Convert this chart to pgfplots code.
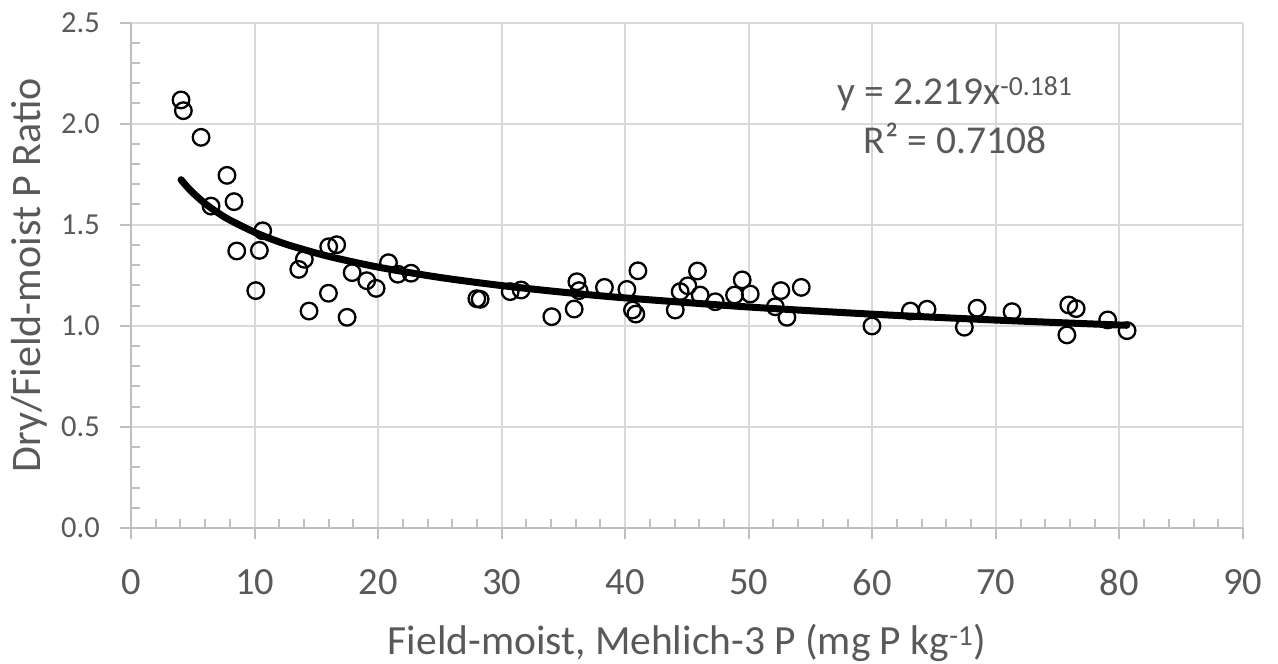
\documentclass[border=0pt]{standalone}
\usepackage{fontspec}
\setmainfont{Carlito}
\usepackage{pgfplots}
\pgfplotsset{compat=1.18}
\definecolor{txtgray}{HTML}{595959}
\definecolor{gridgray}{HTML}{D9D9D9}
\definecolor{axgray}{HTML}{BFBFBF}
\begin{document}
\begin{tikzpicture}
\path[use as bounding box] (-131pt,-136pt) rectangle (1147pt,528pt);
\begin{axis}[
  anchor=south west, at={(0pt,0pt)},
  scale only axis, width=1112pt, height=505.5pt,
  xmin=0, xmax=90, ymin=0, ymax=2.5,
  axis x line=bottom, axis y line=left,
  axis line style={-, draw=axgray, line width=2.5pt},
  xtick={0,10,...,90}, ytick={0,0.5,...,2.5},
  minor x tick num=4, minor y tick num=4,
  tick align=inside,
  major tick length=-11pt, minor tick length=9pt,
  every tick/.style={draw=axgray, line width=2pt},
  grid=major,
  major grid style={draw=gridgray, line width=2pt},
  /pgf/number format/assume math mode=true,
  xticklabel style={font=\fontsize{38.5pt}{44pt}\selectfont, text=txtgray, anchor=north, inner sep=0pt, yshift=-41pt},
  yticklabel style={font=\fontsize{30.5pt}{36pt}\selectfont, text=txtgray, anchor=east, inner sep=0pt, xshift=-31pt,
    /pgf/number format/.cd, fixed, fixed zerofill, precision=1},
  xlabel={Field-moist, Mehlich-3 P (mg P kg\textsuperscript{-1})},
  ylabel={Dry/Field-moist P Ratio},
  xlabel style={font=\fontsize{41.5pt}{48pt}\selectfont, text=txtgray, at={(axis description cs:0.5,-0.2512)}, anchor=base},
  ylabel style={font=\fontsize{42pt}{48pt}\selectfont, text=txtgray, at={(axis description cs:-0.081,0.5)}, anchor=base, rotate=0},
  clip=false,
]
\addplot[only marks, mark=o, mark size=8.3pt, mark options={draw=black, line width=2.3pt}] coordinates {
(4.05,2.117) (4.24,2.064) (5.67,1.932) (7.77,1.744) (6.48,1.592) (8.34,1.614)
(10.66,1.470) (8.56,1.370) (10.39,1.373) (10.10,1.174) (14.03,1.329) (13.58,1.279)
(14.41,1.073) (16.00,1.391) (16.65,1.401) (15.98,1.161) (17.49,1.042) (17.90,1.263)
(19.08,1.223) (19.84,1.185) (20.84,1.312) (21.60,1.255) (22.67,1.260) (27.99,1.134)
(28.26,1.131) (30.69,1.169) (31.58,1.177) (34.06,1.045) (36.09,1.218) (36.27,1.174)
(35.87,1.083) (38.32,1.190) (40.14,1.180) (41.03,1.272) (40.59,1.078) (40.86,1.058)
(44.05,1.078) (44.45,1.169) (45.07,1.198) (45.85,1.271) (46.07,1.152) (47.29,1.119)
(48.85,1.152) (49.47,1.227) (50.12,1.157) (52.15,1.094) (52.60,1.174) (53.09,1.042)
(54.25,1.190) (59.97,0.999) (63.08,1.073) (64.43,1.082) (67.45,0.993) (68.48,1.087)
(71.31,1.070) (75.90,1.103) (76.50,1.085) (75.75,0.955) (79.05,1.029) (80.62,0.976)
};
\addplot[black, line width=7pt, smooth, line cap=round] coordinates {
(4.05,1.7226) (4.5,1.6902) (5,1.6582) (6,1.6043) (7,1.5602) (8,1.5229) (10,1.4626)
(11.5,1.4260) (13,1.3947) (16,1.3434) (20,1.2902) (25,1.2391) (30,1.1989) (35,1.1659)
(40,1.1380) (50,1.0930) (60,1.0575) (70,1.0284) (80.6,1.0025)
};
\node[anchor=base, text=txtgray, font=\fontsize{39.5pt}{46pt}\selectfont] at (axis cs:66.7,2.092) {y = 2.219x\textsuperscript{-0.181}};
\node[anchor=base, text=txtgray, font=\fontsize{39.5pt}{46pt}\selectfont] at (axis cs:66.7,1.850) {R² = 0.7108};
\end{axis}
\end{tikzpicture}
\end{document}
